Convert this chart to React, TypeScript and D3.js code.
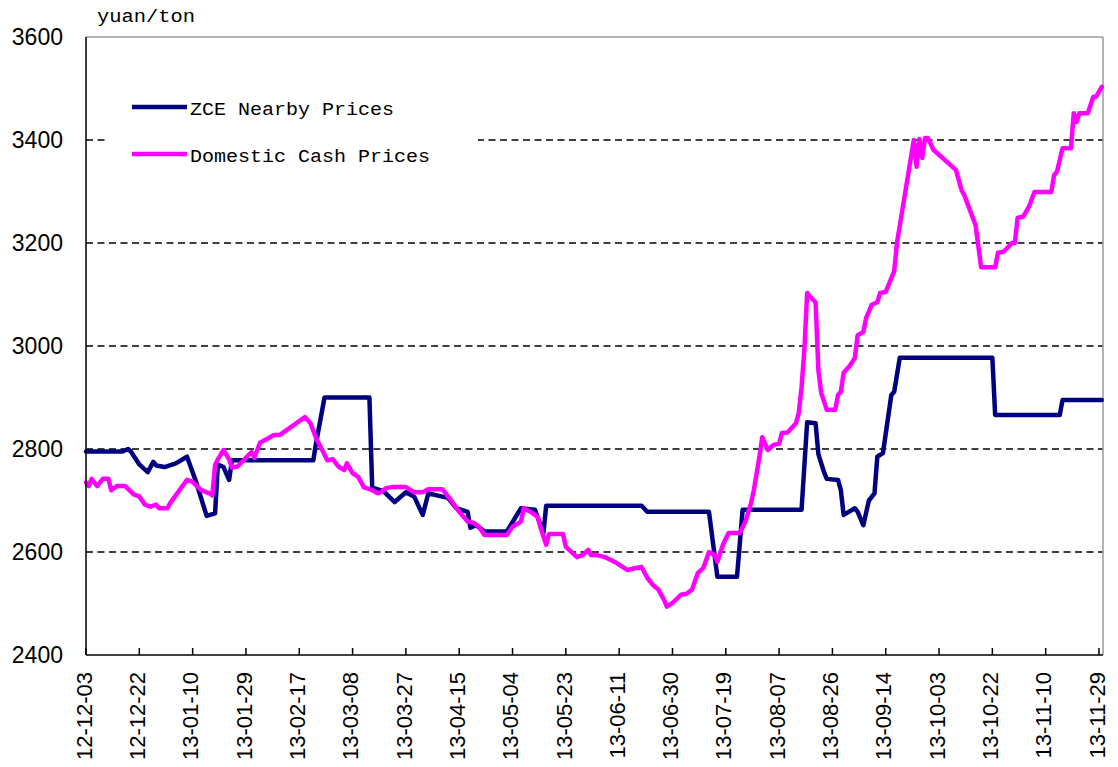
import * as d3 from "d3";

const WIDTH = 1118;
const HEIGHT = 767;
const PLOT = { left: 86, right: 1103, top: 37, bottom: 655 };
const LAST_TICK_X = 1099;

const NAVY = "#000080";
const MAGENTA = "#ff00ff";

// x axis tick labels (every 19 days)
const TICK_LABELS = [
  "12-12-03", "12-12-22", "13-01-10", "13-01-29", "13-02-17",
  "13-03-08", "13-03-27", "13-04-15", "13-05-04", "13-05-23",
  "13-06-11", "13-06-30", "13-07-19", "13-08-07", "13-08-26",
  "13-09-14", "13-10-03", "13-10-22", "13-11-10", "13-11-29",
];
const Y_TICKS = [2400, 2600, 2800, 3000, 3200, 3400, 3600];
const GRID_VALUES = [2600, 2800, 3000, 3200, 3400];

// ZCE nearby prices, yuan/ton
const ZCE_DATES = [
  "12-12-03", "12-12-16", "12-12-18", "12-12-19", "12-12-22", "12-12-25", "12-12-27", "12-12-28", "12-12-31", "13-01-04",
  "13-01-08", "13-01-11", "13-01-15", "13-01-18", "13-01-19", "13-01-21", "13-01-23", "13-01-24", "13-02-22", "13-02-23",
  "13-02-26", "13-03-14", "13-03-15", "13-03-19", "13-03-23", "13-03-27", "13-03-30", "13-04-02", "13-04-04", "13-04-07",
  "13-04-11", "13-04-14", "13-04-18", "13-04-19", "13-04-21", "13-04-24", "13-05-02", "13-05-07", "13-05-12", "13-05-15",
  "13-05-16", "13-06-19", "13-06-21", "13-07-13", "13-07-16", "13-07-23", "13-07-25", "13-08-15", "13-08-17", "13-08-20",
  "13-08-21", "13-08-23", "13-08-24", "13-08-28", "13-08-29", "13-08-30", "13-09-03", "13-09-04", "13-09-06", "13-09-08",
  "13-09-10", "13-09-11", "13-09-13", "13-09-16", "13-09-17", "13-09-19", "13-10-22", "13-10-23", "13-11-15", "13-11-16",
  "13-11-30",
];
const ZCE_VALUES = [
  2795, 2795, 2800, 2795, 2770, 2755, 2775, 2768, 2765, 2772,
  2785, 2740, 2670, 2675, 2770, 2765, 2740, 2778, 2778, 2812,
  2900, 2900, 2725, 2718, 2697, 2716, 2707, 2672, 2714, 2710,
  2705, 2685, 2678, 2647, 2652, 2640, 2640, 2685, 2682, 2637,
  2690, 2690, 2678, 2678, 2552, 2552, 2682, 2682, 2852, 2850,
  2790, 2755, 2742, 2740, 2720, 2672, 2685, 2678, 2652, 2700,
  2714, 2785, 2792, 2905, 2911, 2977, 2977, 2866, 2866, 2895,
  2895,
];

// Domestic cash prices, yuan/ton
const CASH_DATES = [
  "12-12-03", "12-12-04", "12-12-05", "12-12-07", "12-12-09", "12-12-11", "12-12-12", "12-12-14", "12-12-17", "12-12-20",
  "12-12-22", "12-12-24", "12-12-26", "12-12-28", "12-12-29", "13-01-01", "13-01-02", "13-01-08", "13-01-10", "13-01-13",
  "13-01-16", "13-01-17", "13-01-18", "13-01-19", "13-01-21", "13-01-23", "13-01-24", "13-01-26", "13-01-29", "13-01-31",
  "13-02-01", "13-02-03", "13-02-05", "13-02-08", "13-02-10", "13-02-19", "13-02-21", "13-02-23", "13-02-25", "13-02-27",
  "13-03-01", "13-03-03", "13-03-05", "13-03-06", "13-03-08", "13-03-10", "13-03-12", "13-03-15", "13-03-17", "13-03-18",
  "13-03-20", "13-03-22", "13-03-27", "13-03-30", "13-04-02", "13-04-04", "13-04-09", "13-04-12", "13-04-15", "13-04-18",
  "13-04-20", "13-04-22", "13-04-24", "13-05-02", "13-05-04", "13-05-07", "13-05-08", "13-05-11", "13-05-13", "13-05-14",
  "13-05-16", "13-05-17", "13-05-22", "13-05-23", "13-05-27", "13-05-29", "13-05-31", "13-06-01", "13-06-03", "13-06-06",
  "13-06-10", "13-06-14", "13-06-17", "13-06-19", "13-06-21", "13-06-23", "13-06-25", "13-06-27", "13-06-28", "13-06-30",
  "13-07-03", "13-07-05", "13-07-07", "13-07-09", "13-07-11", "13-07-13", "13-07-15", "13-07-16", "13-07-18", "13-07-20",
  "13-07-24", "13-07-26", "13-07-28", "13-07-29", "13-07-31", "13-08-01", "13-08-03", "13-08-05", "13-08-07", "13-08-08",
  "13-08-10", "13-08-13", "13-08-14", "13-08-15", "13-08-16", "13-08-17", "13-08-18", "13-08-20", "13-08-21", "13-08-22",
  "13-08-24", "13-08-27", "13-08-28", "13-08-29", "13-08-30", "13-09-01", "13-09-03", "13-09-04", "13-09-06", "13-09-07",
  "13-09-09", "13-09-11", "13-09-12", "13-09-14", "13-09-17", "13-09-18", "13-09-24", "13-09-25", "13-09-26", "13-09-27",
  "13-09-28", "13-09-29", "13-10-01", "13-10-09", "13-10-11", "13-10-12", "13-10-16", "13-10-18", "13-10-23", "13-10-24",
  "13-10-26", "13-10-29", "13-10-30", "13-10-31", "13-11-02", "13-11-04", "13-11-06", "13-11-12", "13-11-13", "13-11-14",
  "13-11-16", "13-11-19", "13-11-20", "13-11-21", "13-11-22", "13-11-25", "13-11-27", "13-11-28", "13-11-30",
];
const CASH_VALUES = [
  2735, 2728, 2742, 2728, 2742, 2742, 2720, 2728, 2728, 2712,
  2708, 2692, 2688, 2692, 2685, 2685, 2695, 2740, 2736, 2720,
  2714, 2710, 2769, 2780, 2798, 2780, 2764, 2766, 2783, 2794,
  2783, 2812, 2818, 2827, 2827, 2862, 2850, 2821, 2800, 2778,
  2780, 2766, 2759, 2772, 2753, 2746, 2726, 2720, 2714, 2716,
  2724, 2726, 2726, 2716, 2716, 2722, 2722, 2701, 2678, 2659,
  2657, 2649, 2633, 2633, 2649, 2659, 2685, 2676, 2668, 2647,
  2614, 2635, 2635, 2610, 2590, 2594, 2604, 2594, 2594, 2590,
  2579, 2565, 2569, 2571, 2550, 2536, 2527, 2507, 2494, 2501,
  2517, 2519, 2527, 2559, 2569, 2600, 2594, 2581, 2614, 2637,
  2637, 2659, 2695, 2720, 2785, 2823, 2798, 2808, 2810, 2831,
  2832, 2850, 2870, 2920, 2992, 3103, 3096, 3085, 2953, 2909,
  2876, 2876, 2905, 2911, 2948, 2960, 2977, 3021, 3027, 3054,
  3080, 3085, 3103, 3105, 3145, 3200, 3400, 3348, 3402, 3365,
  3404, 3404, 3381, 3342, 3303, 3293, 3235, 3153, 3153, 3181,
  3183, 3200, 3200, 3249, 3251, 3270, 3299, 3299, 3332, 3338,
  3384, 3384, 3452, 3435, 3452, 3452, 3484, 3484, 3503,
];

const parse = d3.utcParse("%y-%m-%d");

type Pt = { date: Date; value: number };
const toSeries = (dates: string[], values: number[]): Pt[] =>
  dates.map((d, i) => ({ date: parse(d) as Date, value: values[i] }));

const zce = toSeries(ZCE_DATES, ZCE_VALUES);
const cash = toSeries(CASH_DATES, CASH_VALUES);
const tickDates = TICK_LABELS.map((t) => parse(t) as Date);

const xScale = d3
  .scaleUtc()
  .domain([tickDates[0], tickDates[tickDates.length - 1]])
  .range([PLOT.left, LAST_TICK_X]);

const yScale = d3.scaleLinear().domain([2400, 3600]).range([PLOT.bottom, PLOT.top]);

const line = d3
  .line<Pt>()
  .x((d) => xScale(d.date))
  .y((d) => yScale(d.value));

const MONO = "'Liberation Mono', 'DejaVu Sans Mono', monospace";
const SANS = "'Liberation Sans', Arial, sans-serif";

export default function App() {
  return (
    <div style={{ position: "absolute", left: 0, top: 0, background: "#fff" }}>
      <svg width={WIDTH} height={HEIGHT} style={{ display: "block" }}>
        <rect x={0} y={0} width={WIDTH} height={HEIGHT} fill="#fff" />

        {/* unit label */}
        <text x={97} y={22} fontFamily={MONO} fontSize={18} fill="#000" textLength={98} lengthAdjust="spacingAndGlyphs">
          yuan/ton
        </text>

        {/* grid */}
        {GRID_VALUES.map((v) => (
          <line
            key={v}
            x1={PLOT.left}
            x2={PLOT.right}
            y1={yScale(v)}
            y2={yScale(v)}
            stroke="#000"
            strokeWidth={1.4}
            strokeDasharray="7 4.5"
          />
        ))}

        {/* plot border: top/right grey */}
        <line x1={PLOT.left} x2={PLOT.right} y1={PLOT.top} y2={PLOT.top} stroke="#9a9a9a" strokeWidth={1.5} />
        <line x1={PLOT.right} x2={PLOT.right} y1={PLOT.top} y2={PLOT.bottom} stroke="#9a9a9a" strokeWidth={1.5} />

        {/* legend */}
        <rect x={106} y={64} width={372} height={118} fill="#fff" />
        <line x1={132} x2={187} y1={107} y2={107} stroke={NAVY} strokeWidth={4.5} />
        <text x={190} y={115} fontFamily={MONO} fontSize={19} fill="#000" textLength={204} lengthAdjust="spacingAndGlyphs">
          ZCE Nearby Prices
        </text>
        <line x1={132} x2={187} y1={154} y2={154} stroke={MAGENTA} strokeWidth={4.5} />
        <text x={190} y={162} fontFamily={MONO} fontSize={19} fill="#000" textLength={240} lengthAdjust="spacingAndGlyphs">
          Domestic Cash Prices
        </text>

        {/* series */}
        <path d={line(zce) ?? ""} fill="none" stroke={NAVY} strokeWidth={4.5} strokeLinejoin="round" strokeLinecap="round" />
        <path d={line(cash) ?? ""} fill="none" stroke={MAGENTA} strokeWidth={4.5} strokeLinejoin="round" strokeLinecap="round" />

        {/* axes */}
        <line x1={PLOT.left} x2={PLOT.left} y1={PLOT.top} y2={PLOT.bottom} stroke="#000" strokeWidth={1.5} />
        <line x1={PLOT.left} x2={PLOT.right} y1={PLOT.bottom} y2={PLOT.bottom} stroke="#000" strokeWidth={1.5} />

        {tickDates.map((d, i) => (
          <line
            key={TICK_LABELS[i]}
            x1={xScale(d)}
            x2={xScale(d)}
            y1={PLOT.bottom}
            y2={PLOT.bottom - 7}
            stroke="#000"
            strokeWidth={1.5}
          />
        ))}

        {Y_TICKS.map((v) => (
          <text
            key={v}
            x={63}
            y={yScale(v)}
            dy="0.35em"
            textAnchor="end"
            fontFamily={SANS}
            fontSize={23}
            fill="#000"
          >
            {v}
          </text>
        ))}

        {tickDates.map((d, i) => {
          const x = xScale(d) - 2;
          const y = 672;
          return (
            <text
              key={TICK_LABELS[i]}
              transform={`translate(${x},${y}) rotate(-90)`}
              dy="0.35em"
              textAnchor="end"
              fontFamily={SANS}
              fontSize={22}
              fill="#000"
            >
              {TICK_LABELS[i]}
            </text>
          );
        })}
      </svg>
    </div>
  );
}
